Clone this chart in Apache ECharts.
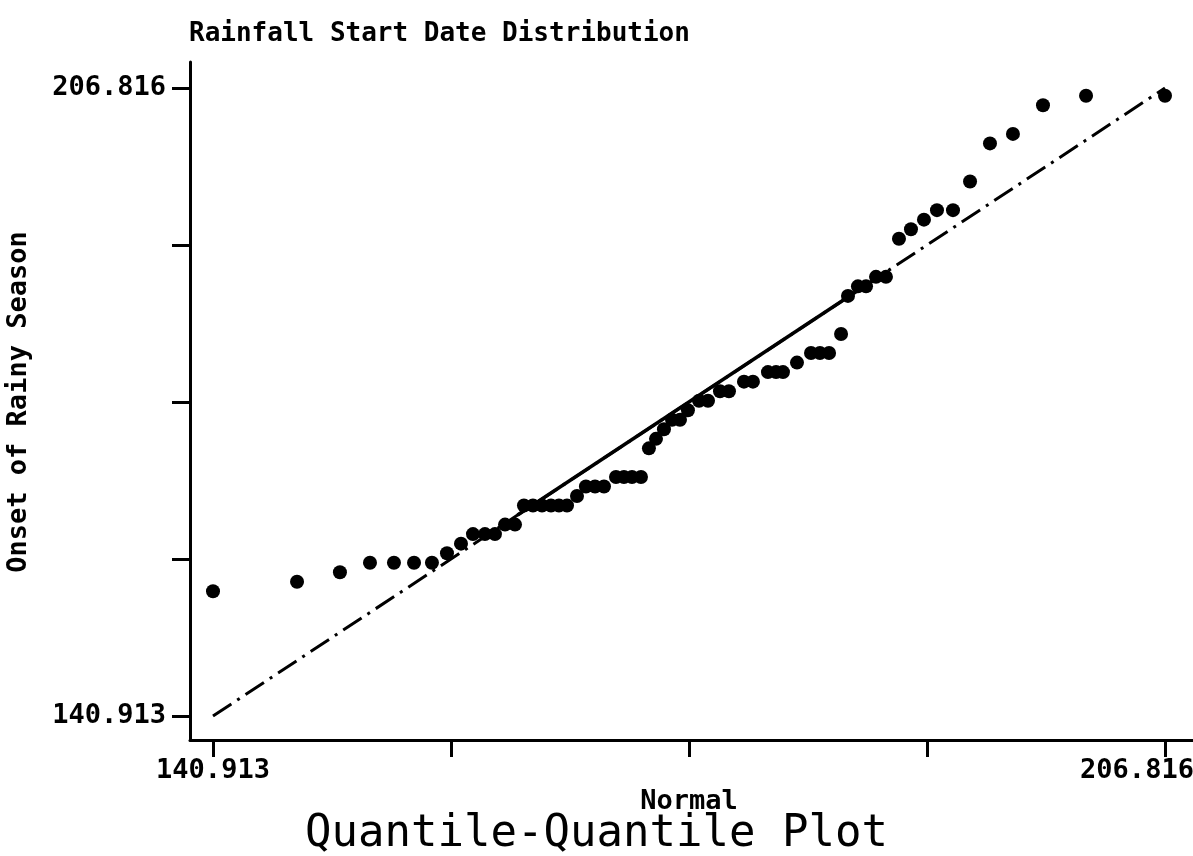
<!DOCTYPE html>
<html>
<head>
<meta charset="utf-8">
<title>Quantile-Quantile Plot</title>
<script src="https://cdn.jsdelivr.net/npm/echarts@6/dist/echarts.min.js"></script>
<style>
  html, body { margin: 0; padding: 0; background: #fff; }
  #chart { width: 1193px; height: 856px; }
</style>
</head>
<body>
<div id="chart"></div>
<script>
// normal quantiles (x) against sorted onset days (y)
const normalQuantiles = [
  140.913, 146.73, 149.70, 151.78, 153.44, 154.83, 156.07, 157.11, 158.08, 158.91,
  159.74, 160.43, 161.13, 161.82, 162.44, 163.06, 163.69, 164.31, 164.86, 165.42,
  166.11, 166.73, 167.36, 167.98, 168.81, 169.36, 169.92, 170.54, 171.09, 171.58,
  172.13, 172.69, 173.24, 173.79, 174.56, 175.18, 176.01, 176.63, 177.67, 178.29,
  179.33, 179.89, 180.37, 181.34, 182.31, 182.93, 183.56, 184.39, 184.87, 185.56,
  186.12, 186.81, 187.50, 188.40, 189.23, 190.13, 191.03, 192.14, 193.32, 194.70,
  196.29, 198.37, 201.35, 206.816
];
const onsetDays = [
  154, 155, 156, 157, 157, 157, 157, 158, 159, 160,
  160, 160, 161, 161, 163, 163, 163, 163, 163, 163,
  164, 165, 165, 165, 166, 166, 166, 166, 169, 170,
  171, 172, 172, 173, 174, 174, 175, 175, 176, 176,
  177, 177, 177, 178, 179, 179, 179, 181, 185, 186,
  186, 187, 187, 191, 192, 193, 194, 194, 197, 201,
  202, 205, 206, 206
];
const axisMin = 140.913;
const axisMax = 206.816;
const tickLabels = ['140.913', '', '', '', '206.816'];
// reference line y = x; dash-dot overall, solid through the middle
const refLine = [140.913, 206.816];
const refSolid = [162.0, 187.0];

const font = 'DejaVu Sans Mono';
const chart = echarts.init(document.getElementById('chart'));

const points = normalQuantiles.map((q, i) => [q, onsetDays[i]]);

chart.setOption({
  backgroundColor: '#fff',
  animation: false,
  title: [
    {
      text: 'Rainfall Start Date Distribution',
      left: 189,
      top: 21,
      padding: 0,
      textStyle: { fontFamily: font, fontSize: 26, fontWeight: 'bold', color: '#000' }
    },
    {
      text: 'Quantile-Quantile Plot',
      left: 'center',
      top: 808,
      textStyle: { fontFamily: font, fontSize: 44, fontWeight: 'normal', color: '#000' }
    }
  ],
  grid: [
    { left: 190, right: 0, top: 62, bottom: 116, outerBoundsMode: 'none' },   // frame lines
    { left: 213, right: 28, top: 88, bottom: 140, outerBoundsMode: 'none' }   // data area
  ],
  xAxis: [
    {
      gridIndex: 0, type: 'value', min: 0, max: 1,
      axisLine: { show: true, lineStyle: { color: '#000', width: 3 } },
      axisTick: { show: false }, axisLabel: { show: false }, splitLine: { show: false }
    },
    {
      gridIndex: 1, type: 'value',
      min: axisMin, max: axisMax, interval: (axisMax - axisMin) / 4,
      offset: 24,
      axisLine: { show: false },
      axisTick: { show: true, length: 17, lineStyle: { color: '#000', width: 3 } },
      splitLine: { show: false },
      axisLabel: {
        showMinLabel: true, showMaxLabel: true,
        margin: 17,
        fontFamily: font, fontSize: 27, fontWeight: 'bold', color: '#000',
        formatter: (v, i) => (i === tickLabels.length - 1 ? '{r|' + tickLabels[i] + '}' : tickLabels[i]),
        rich: {
          r: { fontFamily: font, fontSize: 27, fontWeight: 'bold', color: '#000', padding: [0, 56, 0, 0] }
        }
      },
      name: 'Normal',
      nameLocation: 'middle',
      nameGap: 45,
      nameTextStyle: { fontFamily: font, fontSize: 27, fontWeight: 'bold', color: '#000' }
    }
  ],
  yAxis: [
    {
      gridIndex: 0, type: 'value', min: 0, max: 1,
      axisLine: { show: true, lineStyle: { color: '#000', width: 3 } },
      axisTick: { show: false }, axisLabel: { show: false }, splitLine: { show: false }
    },
    {
      gridIndex: 1, type: 'value',
      min: axisMin, max: axisMax, interval: (axisMax - axisMin) / 4,
      offset: 23,
      axisLine: { show: false },
      axisTick: { show: true, length: 18, lineStyle: { color: '#000', width: 3 } },
      splitLine: { show: false },
      axisLabel: {
        showMinLabel: true, showMaxLabel: true,
        margin: 24,
        fontFamily: font, fontSize: 27, fontWeight: 'bold', color: '#000',
        formatter: (v, i) => tickLabels[i]
      },
      name: 'Onset of Rainy Season',
      nameLocation: 'middle',
      nameGap: 158,
      nameRotate: 90,
      nameTextStyle: { fontFamily: font, fontSize: 27, fontWeight: 'bold', color: '#000' }
    }
  ],
  series: [
    {
      type: 'line',
      xAxisIndex: 1, yAxisIndex: 1,
      data: refLine.map(v => [v, v]),
      symbol: 'none',
      lineStyle: { color: '#000', width: 3, type: [22, 7, 3, 7] },
      silent: true
    },
    {
      type: 'line',
      xAxisIndex: 1, yAxisIndex: 1,
      data: refSolid.map(v => [v, v]),
      symbol: 'none',
      lineStyle: { color: '#000', width: 3.5, type: 'solid' },
      silent: true
    },
    {
      type: 'scatter',
      xAxisIndex: 1, yAxisIndex: 1,
      data: points,
      symbol: 'circle',
      symbolSize: 14,
      itemStyle: { color: '#000', opacity: 1 },
      clip: false
    }
  ]
});
</script>
</body>
</html>
